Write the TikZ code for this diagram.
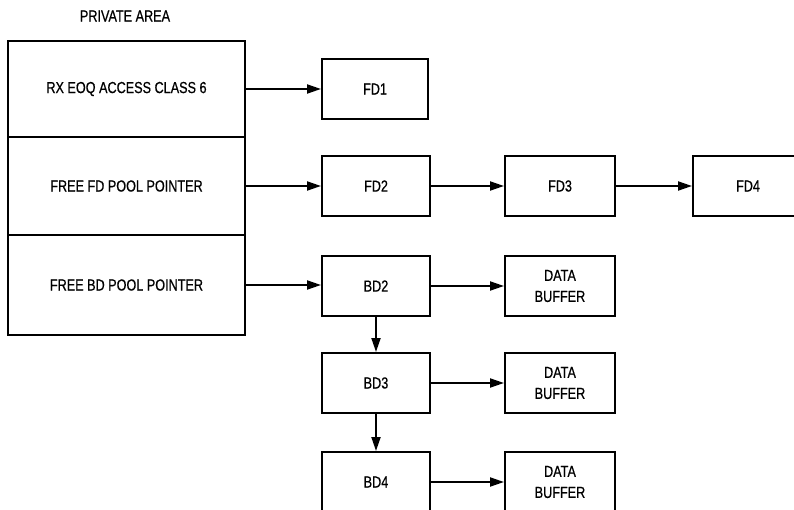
\documentclass[tikz,border=0pt]{standalone}
\usepackage{fontspec}
\setmainfont[FakeStretch=0.79,FakeBold=0.6]{Liberation Sans}
\usetikzlibrary{arrows.meta}
\begin{document}
\begin{tikzpicture}[x=1bp,y=-1bp,
  every node/.style={font=\fontsize{16bp}{21bp}\selectfont},
  box/.style={draw, line width=2bp, inner sep=0pt, minimum height=60bp, minimum width=108bp, align=center},
  row/.style={draw, line width=2bp, inner sep=0pt, minimum width=237bp, align=center},
  link/.style={line width=2bp, -{Triangle[length=14bp,width=9bp]}}]
\useasboundingbox (0,0) rectangle (794,510);
\node (title) at (125,16) {PRIVATE AREA};
\node[row, minimum height=96bp] (r1) at (126.5,89) {RX EOQ ACCESS CLASS 6};
\node[row, minimum height=98bp] (r2) at (126.5,186) {FREE FD POOL POINTER};
\node[row, minimum height=100bp] (r3) at (126.5,285) {FREE BD POOL POINTER};
\node[box, minimum height=60bp, minimum width=106bp] (fd1) at (375,89) {FD1};
\node[box] (fd2) at (376,186) {FD2};
\node[box, minimum width=110bp] (fd3) at (560,186) {FD3};
\node[box, minimum width=110bp] (fd4) at (748,186) {FD4};
\node[box] (bd2) at (376,286) {BD2};
\node[box] (bd3) at (376,383) {BD3};
\node[box] (bd4) at (376,482) {BD4};
\node[box, minimum width=110bp] (db1) at (560,286) {DATA\\BUFFER};
\node[box, minimum width=110bp] (db2) at (560,383) {DATA\\BUFFER};
\node[box, minimum width=110bp] (db3) at (560,482) {DATA\\BUFFER};
\draw[link] (r1.east) -- (r1.east -| fd1.west);
\draw[link] (r2.east) -- (r2.east -| fd2.west);
\draw[link] (r3.east) -- (r3.east -| bd2.west);
\draw[link] (fd2) -- (fd3);
\draw[link] (fd3) -- (fd4);
\draw[link] (bd2) -- (db1);
\draw[link] (bd3) -- (db2);
\draw[link] (bd4) -- (db3);
\draw[link] (bd2) -- (bd3);
\draw[link] (bd3) -- (bd4);
\end{tikzpicture}
\end{document}
